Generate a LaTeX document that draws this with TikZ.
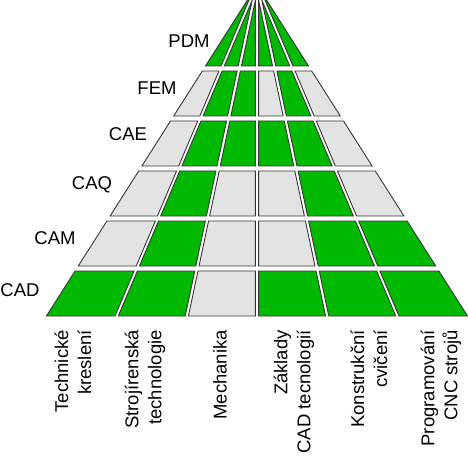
\documentclass[tikz,border=0pt]{standalone}
\usepackage{fontspec}
\setmainfont{Liberation Sans}
\definecolor{cellgreen}{RGB}{0,185,0}
\definecolor{cellgray}{RGB}{227,227,227}
\definecolor{celledge}{RGB}{55,55,55}

\begin{document}
\begin{tikzpicture}[
		x=1pt, y=-1pt,
		font=\fontsize{18.5}{23}\selectfont,
		on/.style={fill=cellgreen, draw=celledge, line width=0.9pt},
		off/.style={fill=cellgray, draw=celledge, line width=0.9pt},
		level/.style={inner sep=0pt},
		subject/.style={rotate=90, anchor=east, align=right, inner sep=0pt}
		]
		\useasboundingbox (0,0) rectangle (468,457);
		
		% Pyramid: row 0 = CAD at the bottom, apex at (257,-15)
		\foreach \r/\cells in {0/{on,on,off,on,on,on}, 1/{off,on,off,off,on,on},
			2/{off,on,off,off,on,off}, 3/{off,on,on,on,on,off},
			4/{off,on,on,off,on,off}, 5/{on,on,on,on,on,on}}{
			\pgfmathsetmacro{\yb}{316-50*\r}
			\pgfmathsetmacro{\yt}{\r==5 ? 0 : \yb-45}
			\pgfmathsetmacro{\wb}{1.272*(\yb+15)}
			\pgfmathsetmacro{\wt}{1.272*(\yt+15)}
			\foreach \c [count=\i from 0] in \cells {
				\pgfmathsetmacro{\gl}{\i>0 ? 1.6 : 0}
				\pgfmathsetmacro{\gr}{\i<5 ? 1.6 : 0}
				\pgfmathsetmacro{\xa}{257+\wb*(\i/6-0.5)+\gl}
				\pgfmathsetmacro{\xb}{257+\wb*((\i+1)/6-0.5)-\gr}
				\pgfmathsetmacro{\xc}{257+\wt*((\i+1)/6-0.5)-\gr}
				\pgfmathsetmacro{\xd}{257+\wt*(\i/6-0.5)+\gl}
				\path[\c] (\xa,\yb) -- (\xb,\yb) -- (\xc,\yt) -- (\xd,\yt) -- cycle;
			}
		}
		
		% Levels on the left
		\node[level] (pdm) at (189,41) {PDM};
		\node[level] (fem) at (157,88) {FEM};
		\node[level] (cae) at (128,134) {CAE};
		\node[level] (caq) at (92,185) {CAQ};
		\node[level] (cam) at (55,238) {CAM};
		\node[level] (cad) at (20,290) {CAD};
		
		% Subjects below
		\node[subject] (tk) at (73,330) {Technické\\kreslení};
		\node[subject] (st) at (145,330) {Strojírenská\\technologie};
		\node[subject] (me) at (220,330) {Mechanika};
		\node[subject] (zc) at (294,330) {Základy\\CAD tecnologií};
		\node[subject] (kc) at (369,330) {Konstrukční\\cvičení};
		\node[subject] (pc) at (441,330) {Programování\\CNC strojů};
		
	\end{tikzpicture}
\end{document}
